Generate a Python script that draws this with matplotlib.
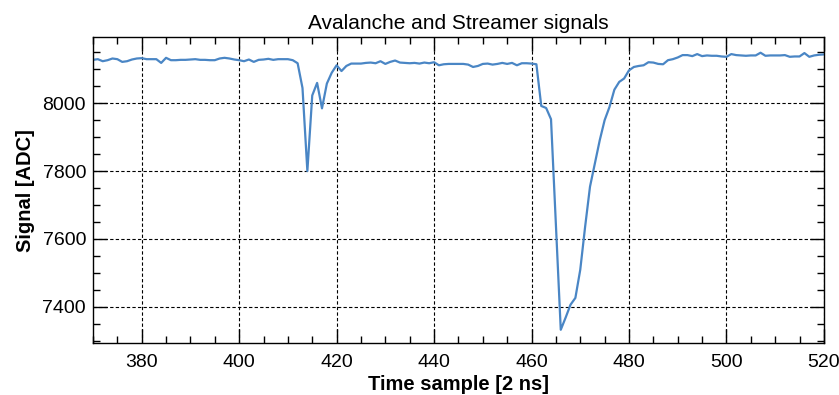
import numpy as np
import matplotlib
matplotlib.use("Agg")
import matplotlib.pyplot as plt
from matplotlib.ticker import MultipleLocator

plt.rcParams['font.family'] = ['Liberation Sans', 'DejaVu Sans']

# Waveform samples (time index and ADC counts)
time_sample = np.arange(370, 521)
signal_adc = [
    8128, 8130, 8124, 8127, 8132, 8130, 8122, 8124, 8129, 8132,   # 370-379
    8133, 8130, 8130, 8130, 8119, 8134, 8127, 8127, 8128, 8128,   # 380-389
    8129, 8130, 8128, 8128, 8127, 8127, 8132, 8134, 8132, 8129,   # 390-399
    8127, 8124, 8129, 8122, 8128, 8129, 8131, 8128, 8130, 8130,   # 400-409
    8130, 8127, 8118, 8045, 7800, 8023, 8060, 7985, 8058, 8090,   # 410-419
    8112, 8095, 8110, 8117, 8117, 8117, 8119, 8120, 8118, 8124,   # 420-429
    8116, 8122, 8126, 8120, 8119, 8118, 8119, 8117, 8120, 8118,   # 430-439
    8121, 8112, 8115, 8116, 8116, 8116, 8116, 8114, 8107, 8110,   # 440-449
    8116, 8117, 8114, 8116, 8119, 8116, 8119, 8112, 8118, 8118,   # 450-459
    8117, 8115, 7992, 7986, 7953, 7645, 7332, 7368, 7406, 7426,   # 460-469
    7509, 7636, 7754, 7823, 7891, 7950, 7989, 8040, 8063, 8073,   # 470-479
    8097, 8107, 8110, 8112, 8121, 8120, 8116, 8115, 8127, 8130,   # 480-489
    8135, 8142, 8142, 8139, 8145, 8139, 8141, 8140, 8140, 8138,   # 490-499
    8137, 8145, 8142, 8141, 8140, 8141, 8141, 8149, 8140, 8141,   # 500-509
    8141, 8141, 8142, 8137, 8138, 8138, 8148, 8137, 8141, 8143,   # 510-519
    8144,                                                         # 520
]

fig = plt.figure(figsize=(8.39, 3.95), dpi=100)
ax = fig.add_axes([0.1108, 0.1316, 0.8712, 0.7744])

ax.plot(time_sample, signal_adc, color='#4a86c5', lw=1.6)

ax.set_xlim(370, 520)
ax.set_ylim(7293, 8195)

ax.xaxis.set_major_locator(MultipleLocator(20))
ax.xaxis.set_minor_locator(MultipleLocator(5))
ax.yaxis.set_major_locator(MultipleLocator(200))
ax.yaxis.set_minor_locator(MultipleLocator(50))

ax.tick_params(which='both', direction='in', top=True, right=True, width=1.0,
               labelsize=14, colors='black')
ax.tick_params(which='major', length=10)
ax.tick_params(which='minor', length=5)
ax.tick_params(axis='x', which='major', pad=8)
ax.tick_params(axis='y', which='major', pad=5)
for s in ax.spines.values():
    s.set_linewidth(1.0)

ax.grid(True, which='major', color='black', linestyle=(0, (3, 2)), linewidth=0.8)

ax.set_title('Avalanche and Streamer signals', fontsize=15, pad=6)
ax.set_xlabel('Time sample [2 ns]', fontsize=14.5, fontweight='bold', labelpad=3)
ax.set_ylabel('Signal [ADC]', fontsize=14.5, fontweight='bold', labelpad=5)

fig.savefig('out.png', dpi=100)
